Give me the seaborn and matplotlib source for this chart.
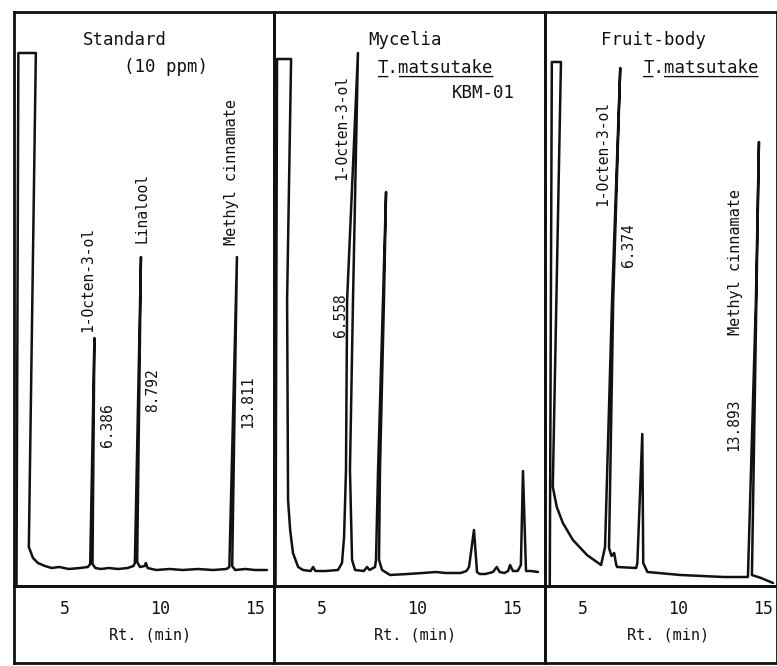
import matplotlib
matplotlib.use("Agg")
import matplotlib.pyplot as plt
import matplotlib.transforms as mtransforms
import pandas as pd
import seaborn as sns

# chromatogram traces: retention time (min) / detector signal (arb. units)
std_rt = [2.45, 2.55, 3.47, 3.1, 3.32, 3.58, 3.95, 4.3, 4.7, 5.2, 5.8, 6.2, 6.33, 6.55, 6.45, 6.6,
          6.9, 7.3, 7.8, 8.3, 8.6, 8.68, 9.0, 8.8, 8.95, 9.2, 9.26, 9.35, 9.8, 10.5, 11.2, 12.0,
          12.8, 13.5, 13.65, 14.05, 13.8, 13.95, 14.5, 15.0, 15.63]
std_sig = [-18, 515, 515, 21, 10, 5, 2, 0, 1, -1, 0, 1, 4, 230, 4, 0,
           -1, 0, -1, 0, 2, 5, 311, 6, 1, 2, 5, 0, -2, -1, -2, -1,
           -2, -1, 1, 311, 2, -2, -1, -2, -2]

myc_rt = [2.55, 2.63, 3.37, 3.16, 3.21, 3.32, 3.47, 3.74, 4.0, 4.4, 4.53, 4.65, 5.2, 5.84,
          6.05, 6.16, 6.26, 6.32, 6.89, 6.63, 6.47, 6.58, 6.74, 7.2, 7.37, 7.5, 7.79, 7.84,
          7.95, 8.21, 8.37, 8.26, 8.05, 8.0, 8.16, 8.58, 9.5, 10.3, 11.0, 11.5, 12.3, 12.6,
          12.74, 13.0, 13.16, 13.3, 13.6, 14.0, 14.2, 14.35, 14.6, 14.8, 14.9, 15.05, 15.3,
          15.47, 15.58, 15.74, 16.0, 16.37]
myc_sig = [-18, 509, 509, 268, 68, 38, 15, 1, -2, -3, 1, -3, -3, -2,
           5, 31, 98, 268, 515, 268, 98, 8, -2, -3, 1, -2, 1, 8,
           98, 268, 376, 268, 98, 8, -2, -7, -6, -5, -4, -5, -5, -3,
           1, 38, -4, -6, -6, -4, 1, -4, -5, -3, 3, -3, -3,
           3, 97, -3, -3, -4]

fb_rt = [3.25, 3.36, 3.84, 3.41, 3.62, 3.94, 4.47, 5.21, 5.95, 6.16, 6.53, 6.96, 6.59, 6.37,
         6.5, 6.64, 6.75, 6.8, 7.8, 7.86, 8.12, 8.17, 8.39, 10.13, 12.41, 13.68, 14.1, 14.26,
         13.89, 14.37, 15.0]
fb_sig = [-18, 506, 506, 81, 61, 45, 28, 13, 3, 21, 268, 500, 268, 20,
          12, 15, 3, 1, 0, 5, 134, 5, -4, -7, -9, -9, 268, 426,
          -7, -10, -15]

traces = [(std_rt, std_sig), (myc_rt, myc_sig), (fb_rt, fb_sig)]

# axis ranges of each panel (min)
panel_xlim = [(2.32, 16.0), (2.47, 16.74), (3.0, 15.21)]
rt_ticks = [5, 10, 15]
xlabel_rt = [9.47, 9.89, 9.5]

# header text of each panel
headers = [
    [("Standard", 8.13, 528), ("(10 ppm)", 10.34, 501)],
    [("Mycelia", 9.39, 528), ("KBM-01", 13.47, 475)],
    [("Fruit-body", 8.7, 528)],
]
species_pos = [None, (7.95, 495), (8.17, 495)]

# peak names and retention times written along the peaks
peak_names = [
    [("1-Octen-3-ol", 6.21, 289), ("Linalool", 9.05, 360), ("Methyl cinnamate", 13.79, 396)],
    [("1-Octen-3-ol", 6.05, 440)],
    [("1-Octen-3-ol", 6.06, 414), ("Methyl cinnamate", 13.04, 306)],
]
peak_times = [
    [("6.386", 7.26, 143), ("8.792", 9.63, 178), ("13.811", 14.63, 166)],
    [("6.558", 5.95, 253)],
    [("6.374", 7.38, 323), ("13.893", 12.94, 143)],
]

sns.set_style("white")
plt.rcParams["font.family"] = ["DejaVu Sans Mono", "DejaVu Sans"]

W, H = 777, 666
fig = plt.figure(figsize=(W / 100, H / 100), dpi=100)

panel_px = [(14, 274), (274, 545), (545, 777)]
top_px, axis_px, bottom_px = 12, 586, 663

for i, (x0, x1) in enumerate(panel_px):
    # frame under the plot that holds the time scale
    box = fig.add_axes([x0 / W, 1 - bottom_px / H, (x1 - x0) / W, (bottom_px - axis_px) / H])
    box.set_facecolor("none")
    box.set_xticks([])
    box.set_yticks([])
    for sp in box.spines.values():
        sp.set_linewidth(2)
        sp.set_color("#111111")

    ax = fig.add_axes([x0 / W, 1 - axis_px / H, (x1 - x0) / W, (axis_px - top_px) / H])
    ax.set_facecolor("none")
    rt, sig = traces[i]
    df = pd.DataFrame({"rt": rt, "signal": sig})
    sns.lineplot(data=df, x="rt", y="signal", sort=False, estimator=None,
                 color="#111111", linewidth=1.8, ax=ax)
    ax.set_xlim(*panel_xlim[i])
    ax.set_ylim(-18, 556)
    ax.set_xticks(rt_ticks)
    ax.set_xticklabels([str(t) for t in rt_ticks])
    ax.set_yticks([])
    ax.set_xlabel("")
    ax.set_ylabel("")
    ax.tick_params(axis="x", direction="in", length=9.5, width=1.6, pad=10,
                   labelsize=12, colors="#111111")
    if i == 2:
        # last label sits against the cut edge of the scan
        ax.get_xticklabels()[-1].set_horizontalalignment("right")
    for sp in ax.spines.values():
        sp.set_linewidth(2)
        sp.set_color("#111111")

    trans = mtransforms.blended_transform_factory(ax.transData, ax.transAxes)
    ax.text(xlabel_rt[i], -0.0854, "Rt. (min)", transform=trans, ha="center",
            va="center", fontsize=11, color="#111111", clip_on=False)

    for txt, x, y in headers[i]:
        ax.text(x, y, txt, ha="center", va="center", fontsize=12.5, color="#111111")
    if species_pos[i] is not None:
        sx, sy = species_pos[i]
        ax.text(sx, sy, "T.matsutake", ha="left", va="baseline", fontsize=12.5, color="#111111")
        ax.text(sx, sy, "_ _________", ha="left", va="baseline", fontsize=12.5, color="#111111")

    for txt, x, y in peak_names[i]:
        fs = 11 if txt.startswith("Methyl") else 10.5
        ax.text(x, y, txt, rotation=90, ha="center", va="center", fontsize=fs, color="#111111")
    for txt, x, y in peak_times[i]:
        ax.text(x, y, txt, rotation=90, ha="center", va="center", fontsize=10.5, color="#111111")

fig.savefig("out.png", dpi=100)
